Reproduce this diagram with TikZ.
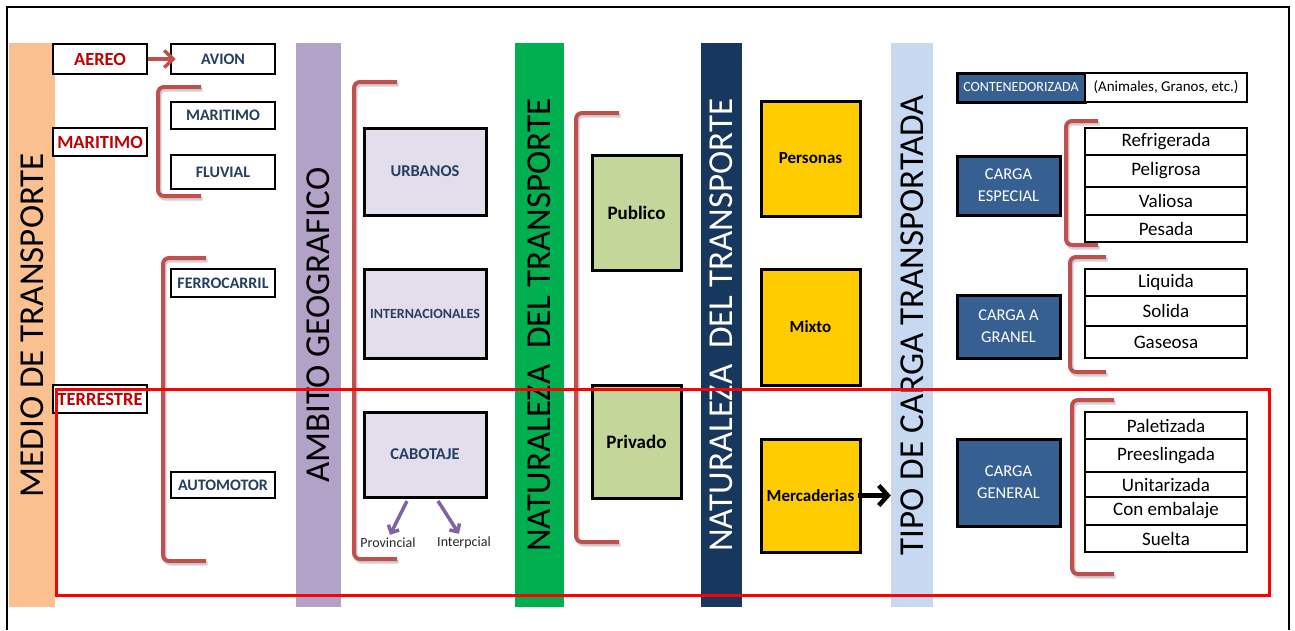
\documentclass[tikz,border=0pt]{standalone}
\usepackage{fontspec}
\setmainfont{Carlito}
\usepackage{tikz}
\usetikzlibrary{positioning,arrows.meta}
\definecolor{bandorange}{HTML}{FAC090}
\definecolor{bandpurple}{HTML}{B3A2C7}
\definecolor{bandgreen}{HTML}{00B050}
\definecolor{bandnavy}{HTML}{17375E}
\definecolor{bandsky}{HTML}{C6D9F1}
\definecolor{boxlav}{HTML}{E2DEEC}
\definecolor{boxolive}{HTML}{C4D79B}
\definecolor{boxyellow}{HTML}{FFCC00}
\definecolor{boxsteel}{HTML}{376092}
\definecolor{brkred}{HTML}{C0504D}
\definecolor{arrpurple}{HTML}{8064A2}
\definecolor{txtred}{HTML}{C00000}
\definecolor{txtslate}{HTML}{243F60}

\begin{document}
\begin{tikzpicture}
  [x=1pt,y=-1pt,
   band/.style={rotate=90,minimum width=564pt,inner sep=0pt,font=\fontsize{35}{35}\selectfont},
   medio/.style={draw,line width=2.5pt,fill=white,inner sep=0pt,minimum width=94pt,text=txtred,font=\bfseries\fontsize{18.5}{18.5}\selectfont},
   via/.style={draw,line width=2.5pt,fill=white,inner sep=0pt,minimum width=104pt,text=txtslate,font=\bfseries\fontsize{16}{16}\selectfont},
   zona/.style={draw,line width=3pt,fill=boxlav,inner sep=0pt,minimum width=122pt,minimum height=87pt,text=txtslate,font=\bfseries\fontsize{16.5}{16.5}\selectfont},
   sector/.style={draw,line width=3pt,fill=boxolive,inner sep=0pt,minimum width=89pt,minimum height=114pt,font=\bfseries\fontsize{19}{19}\selectfont},
   objeto/.style={draw,line width=3pt,fill=boxyellow,inner sep=0pt,minimum width=99pt,minimum height=114pt,font=\bfseries\fontsize{17}{17}\selectfont},
   clase/.style={draw,line width=3pt,fill=boxsteel,inner sep=0pt,minimum width=103pt,text=white,align=center,font=\fontsize{16.5}{22}\selectfont},
   item/.style={draw,line width=2.5pt,fill=white,inner sep=0pt,outer sep=0pt,minimum width=162pt,font=\fontsize{19}{19}\selectfont},
   nota/.style={inner sep=0pt,text=black!85,font=\fontsize{14}{14}\selectfont},
   brk/.style={draw=brkred,line width=4pt,rounded corners=6pt,
     preaction={draw=black!18,line width=4pt,transform canvas={xshift=1.5pt,yshift=-2.5pt}}},
   rarr/.style={draw=brkred,line width=3.5pt,-{Straight Barb[length=9pt,width=17pt]}},
   parr/.style={draw=arrpurple,line width=3.5pt,-{Straight Barb[length=6pt,width=12pt]}},
   barr/.style={draw=black,line width=4.5pt,-{Straight Barb[length=9pt,width=20pt]}}]
  \useasboundingbox (0,0) rectangle (1295,630);
  \draw[line width=1.5pt] (7,630) -- (7,7) -- (1289,7) -- (1289,630);

  \node[band,fill=bandorange,minimum height=46pt] (bmedio) at (32,325) {MEDIO DE TRANSPORTE};
  \node[band,fill=bandpurple,minimum height=45pt] (bambito) at (318.5,325) {AMBITO GEOGRAFICO};
  \node[band,fill=bandgreen,minimum height=49pt] (bnat1) at (539.5,325) {NATURALEZA\hspace{.23em} DEL TRANSPORTE};
  \node[band,fill=bandnavy,text=white,minimum height=41pt] (bnat2) at (721.5,325) {NATURALEZA\hspace{.23em} DEL TRANSPORTE};
  \node[band,fill=bandsky,minimum height=42pt] (bcarga) at (912,325) {TIPO DE CARGA TRANSPORTADA};

  \node[medio,minimum height=30pt] (aereo) at (100,59) {AEREO};
  \node[medio,minimum height=28pt] (maritimo) at (100,142) {MARITIMO};

  \node[via,minimum height=30pt] (avion) at (223,59) {AVION};
  \node[via,minimum height=27pt] (mar) at (223,115.5) {MARITIMO};
  \node[via,minimum height=34pt] (fluvial) at (223,172) {FLUVIAL};
  \node[via,minimum height=28pt] (ferro) at (223,283) {FERROCARRIL};
  \node[via,minimum height=26pt] (auto) at (223,485) {AUTOMOTOR};

  \node[zona] (urb) at (425,171.5) {URBANOS};
  \node[zona,minimum height=89pt,font=\bfseries\fontsize{14}{14}\selectfont] (intl) at (425,313.5) {INTERNACIONALES};
  \node[zona,minimum height=85pt] (cab) at (425,454.5) {CABOTAJE};
  \node[nota] (prov) at (388,543) {Provincial};
  \node[nota] (interp) at (464,543) {Interpcial};

  \node[sector,minimum height=115pt] (pub) at (636.5,212.5) {Publico};
  \node[sector,minimum height=113pt] (priv) at (636.5,441.5) {Privado};

  \node[objeto,minimum height=115pt] (pers) at (810.5,158.5) {Personas};
  \node[objeto,minimum height=116pt] (mixto) at (810.5,327) {Mixto};
  \node[objeto,minimum height=113pt] (merc) at (810.5,495.5) {Mercaderias};

  \node[clase,minimum width=128pt,minimum height=29pt,outer sep=0pt,font=\fontsize{14}{14}\selectfont] (cont) at (1021,87.5) {CONTENEDORIZADA};
  \node[item,minimum height=29pt,font=\fontsize{15}{15}\selectfont,right=0pt of cont] (anim) {(Animales, Granos, etc.)};
  \node[clase,minimum height=59pt] (esp) at (1008.5,185.5) {CARGA\\ESPECIAL};
  \node[clase,minimum height=63pt] (gran) at (1008.5,326.5) {CARGA A\\GRANEL};
  \node[clase,minimum height=87pt] (gen) at (1008.5,482.5) {CARGA\\GENERAL};

  \node[item,minimum height=27pt] (refr) at (1166,141.5) {Refrigerada};
  \node[item,minimum height=32pt,below=0pt of refr] (peli) {Peligrosa};
  \node[item,minimum height=28pt,below=0pt of peli] (vali) {Valiosa};
  \node[item,minimum height=27pt,below=0pt of vali] (pesa) {Pesada};
  \node[item,minimum height=27pt] (liq) at (1166,282.5) {Liquida};
  \node[item,minimum height=30pt,below=0pt of liq] (sol) {Solida};
  \node[item,minimum height=32pt,below=0pt of sol] (gas) {Gaseosa};
  \node[item,minimum height=27pt] (pal) at (1166,425.5) {Paletizada};
  \node[item,minimum height=33pt,below=0pt of pal] (pree) {Preeslingada};
  \node[item,minimum height=25pt,below=0pt of pree] (unit) {Unitarizada};
  \node[item,minimum height=28pt,below=0pt of unit] (emb) {Con embalaje};
  \node[item,minimum height=27pt,below=0pt of emb] (suel) {Suelta};

  \draw[brk] (201,87) -- (158,87) -- (158,196) -- (201,196);
  \draw[brk] (206,258) -- (163,258) -- (163,561) -- (206,561);
  \draw[brk] (397,82) -- (354,82) -- (354,559) -- (397,559);
  \draw[brk] (619,113) -- (576,113) -- (576,542) -- (619,542);
  \draw[brk] (1098,121) -- (1066,121) -- (1066,245) -- (1098,245);
  \draw[brk] (1106,257) -- (1070,257) -- (1070,372) -- (1106,372);
  \draw[brk] (1114,400) -- (1072,400) -- (1072,574) -- (1114,574);

  \draw[rarr,shorten >=-6pt] (aereo) -- (avion);
  \draw[parr] ([xshift=-18pt,yshift=-2.5pt]cab.south) -- ([xshift=2pt,yshift=3pt]prov.north);
  \draw[parr] ([xshift=13pt,yshift=-2.5pt]cab.south) -- ([xshift=-5pt,yshift=3pt]interp.north);
  \draw[barr] ([xshift=-4pt]merc.east) -- (merc.east -| bcarga.north);

  \node[medio,minimum height=28pt] (terr) at (100,399) {TERRESTRE};
  \draw[red,line width=3pt] (56,389) rectangle (1269,595);
\end{tikzpicture}
\end{document}
